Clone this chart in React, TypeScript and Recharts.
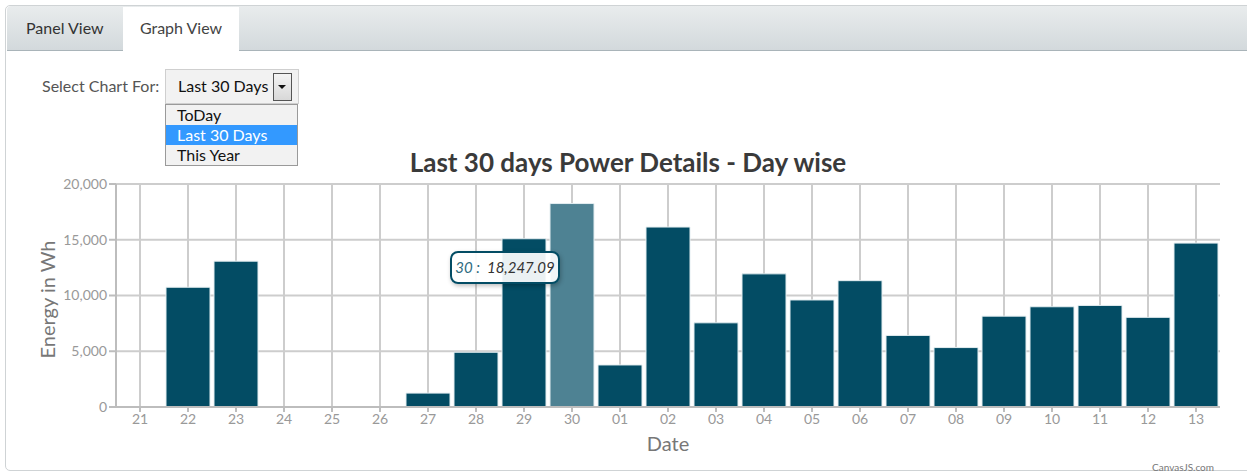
import React from "react";
import { BarChart, Bar, XAxis, YAxis, CartesianGrid, Tooltip, Cell } from "recharts";

const days = ["21", "22", "23", "24", "25", "26", "27", "28", "29", "30", "01", "02", "03", "04", "05", "06", "07", "08", "09", "10", "11", "12", "13"];
const energy = [0, 10740, 13080, 0, 0, 0, 1245, 4910, 15090, 18247.09, 3770, 16140, 7550, 11940, 9600, 11330, 6420, 5330, 8150, 8990, 9110, 8040, 14700];
const yTicks = [0, 5000, 10000, 15000, 20000];
const rangeOptions = ["ToDay", "Last 30 Days", "This Year"];

const data = days.map((d, i) => ({ day: d, value: energy[i] }));

const FONT = "Lato, 'Open Sans', sans-serif";
const BAR = "#034c64";
const BAR_HOVER = "#4e8293";
const HOVER_INDEX = 9;

const fmt = (v: number) => v.toLocaleString("en-US");

// vertical grid lines at the band centres only (no line on the right edge)
const bandCentres = ({ offset }: any) => {
  const step = offset.width / days.length;
  return days.map((_, i) => offset.left + step * (i + 0.5));
};

function TipBox({ active, payload }: any) {
  if (!active || !payload || !payload.length) return null;
  const p = payload[0].payload;
  return (
    <div
      style={{
        width: 106,
        height: 29,
        border: "2px solid #034c64",
        borderRadius: 8,
        background: "rgba(255,255,255,0.92)",
        boxShadow: "1px 2px 4px rgba(0,0,0,0.25)",
        fontFamily: FONT,
        fontStyle: "italic",
        fontSize: 15,
        lineHeight: "29px",
        textAlign: "center",
        color: "#333",
      }}
    >
      <span style={{ color: "#2d6a80" }}>{p.day} :</span>&nbsp;&nbsp;
      {p.value.toLocaleString("en-US", { minimumFractionDigits: 2, maximumFractionDigits: 2 })}
    </div>
  );
}

export default function App() {
  return (
    <div style={{ position: "absolute", left: 0, top: 0, width: 1247, height: 473, background: "#fff", overflow: "hidden", fontFamily: FONT }}>
      {/* panel frame */}
      <div style={{ position: "absolute", left: 5, top: 5, width: 1260, height: 464, border: "1px solid #cfd3d5", borderRadius: 5 }} />

      <BarChart
        width={1247}
        height={473}
        data={data}
        margin={{ top: 184, right: 27, bottom: 16, left: 45 }}
        barSize={44}
        style={{ position: "absolute", left: 0, top: 0 }}
      >
        <CartesianGrid stroke="#cdcdcd" strokeWidth={2} verticalCoordinatesGenerator={bandCentres} />
        <XAxis
          dataKey="day"
          height={50}
          stroke="#bdbdbd"
          strokeWidth={2}
          tickSize={5}
          tick={{ fill: "#999", fontSize: 14, fontFamily: FONT }}
          interval={0}
          label={{ value: "Date", position: "insideBottom", offset: 6, fill: "#777", fontSize: 20, fontFamily: FONT }}
        />
        <YAxis
          width={71}
          domain={[0, 20000]}
          ticks={yTicks}
          tickFormatter={fmt}
          stroke="#bdbdbd"
          strokeWidth={2}
          tickSize={7}
          tick={{ fill: "#999", fontSize: 14, fontFamily: FONT }}
          label={{ value: "Energy in Wh", angle: -90, position: "insideLeft", offset: 3, dy: 4, fill: "#777", fontSize: 20, fontFamily: FONT, style: { textAnchor: "middle" } }}
        />
        <Tooltip
          defaultIndex={HOVER_INDEX}
          active={true}
          cursor={false}
          position={{ x: 450, y: 251 }}
          isAnimationActive={false}
          content={<TipBox />}
          wrapperStyle={{ outline: "none" }}
        />
        <Bar dataKey="value" isAnimationActive={false} activeBar={false}>
          {data.map((_, i) => (
            <Cell key={i} fill={i === HOVER_INDEX ? BAR_HOVER : BAR} stroke="#e4eef1" strokeWidth={1} />
          ))}
        </Bar>
      </BarChart>

      {/* title */}
      <div style={{ position: "absolute", left: 0, width: 1256, top: 146, textAlign: "center", fontSize: 26, fontWeight: 700, color: "#3a3a3a" }}>
        Last 30 days Power Details - Day wise
      </div>

      {/* tab bar */}
      <div
        style={{
          position: "absolute",
          left: 7,
          top: 6,
          width: 1250,
          height: 44,
          background: "linear-gradient(#e9eced, #d3d9dc)",
          borderBottom: "1px solid #a9b4b9",
          borderTopLeftRadius: 4,
        }}
      />
      <div style={{ position: "absolute", left: 26, top: 18, fontSize: 16, color: "#333" }}>Panel View</div>
      <div style={{ position: "absolute", left: 123, top: 7, width: 116, height: 44, background: "#fff" }} />
      <div style={{ position: "absolute", left: 123, top: 18, width: 116, textAlign: "center", fontSize: 16, color: "#444" }}>Graph View</div>

      {/* range selector */}
      <div style={{ position: "absolute", left: 42, top: 76, fontSize: 16, color: "#555" }}>Select Chart For:</div>
      <div style={{ position: "absolute", left: 165, top: 69, width: 132, height: 33, border: "1px solid #cfcfcf", background: "#f2f2f2" }}>
        <div style={{ position: "absolute", left: 12, top: 6, fontSize: 16, color: "#111" }}>Last 30 Days</div>
        <div style={{ position: "absolute", left: 107, top: 3, width: 17, height: 26, border: "1px solid #555", background: "linear-gradient(#f4f4f4,#d8d8d8)" }}>
          <div style={{ position: "absolute", left: 4, top: 11, width: 0, height: 0, borderLeft: "4px solid transparent", borderRight: "4px solid transparent", borderTop: "4px solid #111" }} />
        </div>
      </div>
      <div style={{ position: "absolute", left: 165, top: 104, width: 131, border: "1px solid #9a9a9a", background: "#f2f2f2" }}>
        {rangeOptions.map((o) => (
          <div
            key={o}
            style={{
              height: 20,
              lineHeight: "20px",
              paddingLeft: 11,
              fontSize: 16,
              color: o === "Last 30 Days" ? "#fff" : "#111",
              background: o === "Last 30 Days" ? "#3399ff" : "transparent",
            }}
          >
            {o}
          </div>
        ))}
      </div>

      {/* credit */}
      <div style={{ position: "absolute", left: 1152, top: 461, fontSize: 10, color: "#777" }}>CanvasJS.com</div>
    </div>
  );
}
